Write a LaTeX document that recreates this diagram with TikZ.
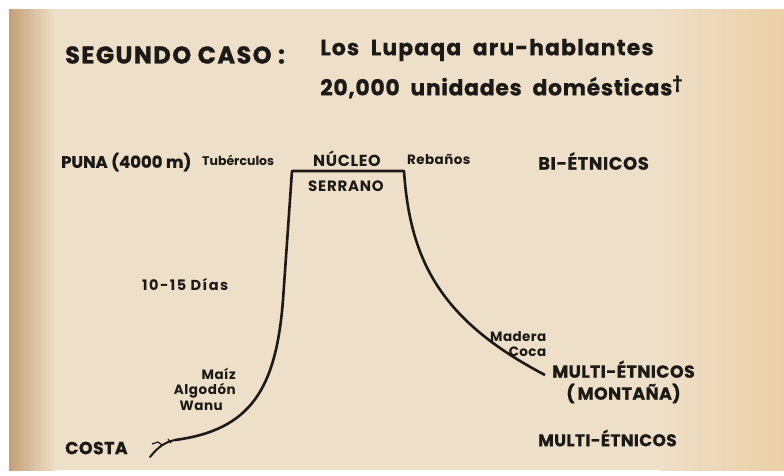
\documentclass[tikz,border=0pt]{standalone}
\usepackage{fontspec}
\setmainfont{Poppins}
\usetikzlibrary{positioning}
\definecolor{paper}{HTML}{EEDFC8}
\definecolor{papershade}{HTML}{C4A078}
\definecolor{paperright}{HTML}{ECD0A8}
\definecolor{ink}{HTML}{1C1A17}
\tikzset{
	title/.style={text=ink, inner sep=0pt, font=\fontsize{24}{27}\selectfont\bfseries\addfontfeature{LetterSpace=6, FakeBold=1.2}},
	subtitle/.style={text=ink, inner sep=0pt, font=\fontsize{22}{25}\selectfont\bfseries\addfontfeature{LetterSpace=5, FakeBold=0.5}},
	zone/.style={text=ink, inner sep=0pt, font=\fontsize{17.5}{22}\selectfont\bfseries\addfontfeature{LetterSpace=2, FakeBold=0.6}},
	crop/.style={text=ink, inner sep=0pt, font=\fontsize{13.5}{15}\selectfont\bfseries\addfontfeature{LetterSpace=3}},
	profile/.style={ink, line width=2.6pt, line join=round},
}

\begin{document}
\begin{tikzpicture}[x=1pt, y=-1pt]
		\useasboundingbox (0,0) rectangle (784,475);
		% page
		\fill[white] (0,0) rectangle (784,475);
		\fill[paper] (9,9) rectangle (784,470);
		\shade[left color=papershade, right color=paper] (9,9) rectangle (55,470);
		\shade[left color=paper, right color=paperright] (660,9) rectangle (784,470);

		% title
		\node[title, anchor=west] (caso) at (65,55) {SEGUNDO CASO :};
		\node[subtitle, anchor=west] (lupaqa) at (320,50) {Los\ \ Lupaqa\ \ aru-hablantes};
		\node[subtitle, anchor=west, font=\fontsize{22}{25}\selectfont\bfseries\addfontfeature{LetterSpace=3, FakeBold=0.5}] (unidades) at (320,87) {20,000\ \ unidades\ \ domésticas\textsuperscript{†}};

		% puna
		\node[zone, anchor=west, font=\fontsize{16.5}{20}\selectfont\bfseries\addfontfeature{FakeBold=0.6}] (puna) at (61,162) {PUNA (4000 m)};
		\node[crop, anchor=west, font=\fontsize{12.5}{15}\selectfont\bfseries] (tuberculos) at (202,160) {Tubérculos};
		\node[zone, anchor=center, font=\fontsize{16}{20}\selectfont\bfseries\addfontfeature{LetterSpace=4}] (nucleo) at (347,159) {NÚCLEO};
		\node[zone, anchor=center, font=\fontsize{15}{20}\selectfont\bfseries\addfontfeature{LetterSpace=5}] (serrano) at (346,186) {SERRANO};
		\node[crop, anchor=west] (rebanos) at (407,159) {Rebaños};
		\node[zone, anchor=west, font=\fontsize{18}{22}\selectfont\bfseries\addfontfeature{LetterSpace=3, FakeBold=0.6}] (bi) at (538,161) {BI-ÉTNICOS};

		% profile
		\draw[profile] (175,440) .. controls (250,430) and (276,390) .. (283,300)
			-- (292,171) -- (404,171)
			.. controls (410,260) and (440,320) .. (545,375);
		\draw[ink, line width=2pt, line cap=round] (175,440) .. controls (165,442) and (158,447) .. (150,457);
		\draw[ink, line width=1.2pt] (152,444) -- (158,442) -- (162,445) (168,439) -- (171,443);

		% lados
		\node[crop, anchor=west, font=\fontsize{14.5}{15}\selectfont\bfseries\addfontfeature{LetterSpace=10}] (dias) at (142,285) {10-15 Días};
		\node[crop, anchor=east, align=right, font=\fontsize{13.5}{15.5}\selectfont\bfseries\addfontfeature{LetterSpace=4}] (costeno) at (236,389) {Maíz\\Algodón\\Wanu\hspace*{13pt}};
		\node[zone, anchor=west] (costa) at (65,448) {COSTA};
		\node[crop, anchor=west, align=right] (montano) at (490,344) {Madera\\Coca};
		\node[zone, anchor=west, align=center] (multi) at (552,382) {MULTI-ÉTNICOS\\(\,MONTAÑA)};
		\node[zone, anchor=west, font=\fontsize{17}{22}\selectfont\bfseries\addfontfeature{LetterSpace=2, FakeBold=0.6}] (multib) at (538,438) {MULTI-ÉTNICOS};
	\end{tikzpicture}
\end{document}
